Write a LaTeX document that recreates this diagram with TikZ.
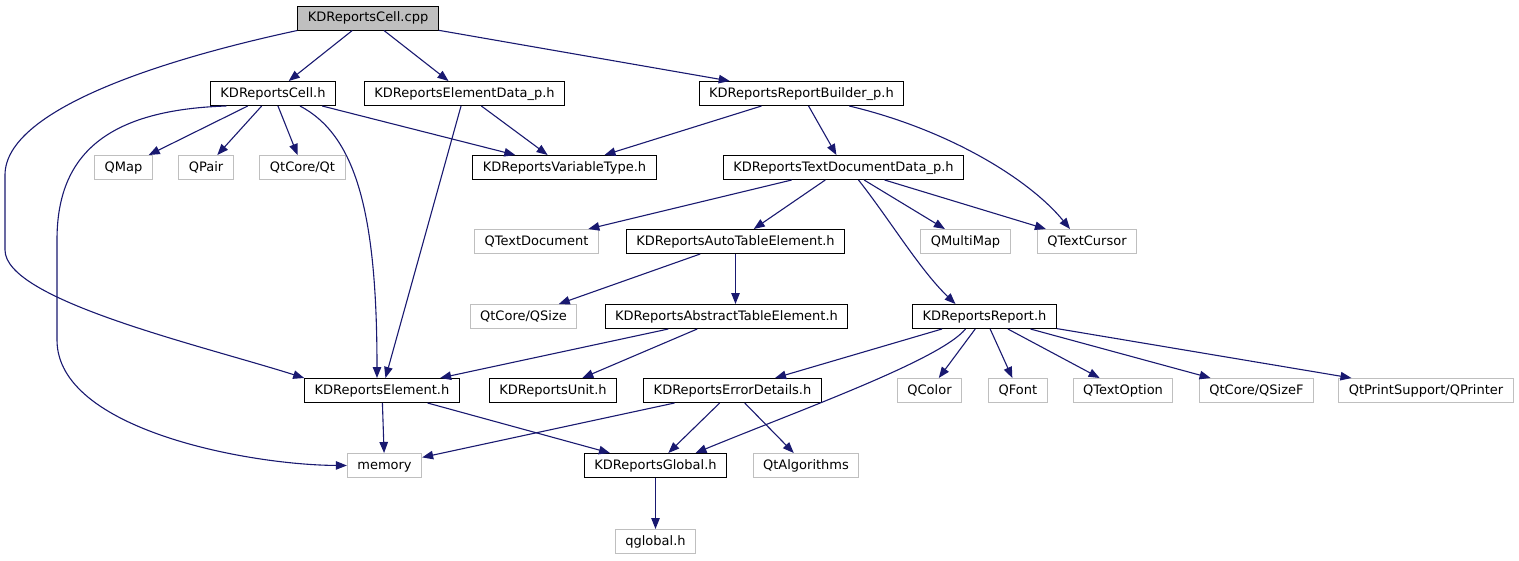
\documentclass[tikz,border=0pt]{standalone}
\usepackage{fontspec}
\setmainfont{DejaVu Sans}
\usetikzlibrary{arrows.meta,calc}
\definecolor{edgec}{HTML}{191970}
\definecolor{grayb}{HTML}{BFBFBF}
\begin{document}
\begin{tikzpicture}[x=1pt,y=-1pt,
  box/.style={draw=black,line width=1pt,font=\fontsize{13}{13}\selectfont,inner xsep=10pt,inner ysep=0pt,minimum height=24pt,text height=9.5pt,text depth=2.5pt},
  ext/.style={box,draw=grayb},
  e/.style={draw=edgec,line width=1.1pt,-{Triangle[length=11pt,width=8.5pt]}},
]
\useasboundingbox (0,0) rectangle (1519,560);
% row 1
\node[box,fill=grayb] (cpp) at (368,18) {KDReportsCell.cpp};
% row 2
\node[box] (cellh) at (273,93.5) {KDReportsCell.h};
\node[box] (eldata) at (464.5,93.5) {KDReportsElementData\_p.h};
\node[box] (builder) at (801.5,93.5) {KDReportsReportBuilder\_p.h};
% row 3
\node[ext] (qmap) at (123.5,167.5) {QMap};
\node[ext] (qpair) at (206,167.5) {QPair};
\node[ext] (qtqt) at (302.5,167.5) {QtCore/Qt};
\node[box] (vartype) at (564.5,167.5) {KDReportsVariableType.h};
\node[box] (textdoc) at (843.5,167.5) {KDReportsTextDocumentData\_p.h};
% row 4
\node[ext] (qtextdoc) at (536.5,241.5) {QTextDocument};
\node[box] (autotable) at (735.5,241.5) {KDReportsAutoTableElement.h};
\node[ext] (qmultimap) at (965.5,241.5) {QMultiMap};
\node[ext] (qtextcursor) at (1087,241.5) {QTextCursor};
% row 5
\node[ext] (qsize) at (523.5,316.5) {QtCore/QSize};
\node[box] (abstract) at (726.5,316.5) {KDReportsAbstractTableElement.h};
\node[box] (report) at (984.5,316.5) {KDReportsReport.h};
% row 6
\node[box] (element) at (382,390.5) {KDReportsElement.h};
\node[box] (unit) at (553,390.5) {KDReportsUnit.h};
\node[box] (errdet) at (732.5,390.5) {KDReportsErrorDetails.h};
\node[ext] (qcolor) at (929.5,390.5) {QColor};
\node[ext] (qfont) at (1018,390.5) {QFont};
\node[ext] (qtextoption) at (1123,390.5) {QTextOption};
\node[ext] (qsizef) at (1256.5,390.5) {QtCore/QSizeF};
\node[ext] (qprinter) at (1426,390.5) {QtPrintSupport/QPrinter};
% row 7
\node[ext] (memory) at (384.5,465.5) {memory};
\node[box] (global) at (655.5,465.5) {KDReportsGlobal.h};
\node[ext] (qtalgo) at (806,465.5) {QtAlgorithms};
% row 8
\node[ext] (qglobal) at (655.5,541.5) {qglobal.h};

% edges
\draw[e] (cpp) -- (cellh);
\draw[e] (cpp) -- (eldata);
\draw[e] (cpp) -- (builder);
\draw[e] (cpp.south west) .. controls (160,60) and (5,110) .. (5,175) -- (5,250) .. controls (5,300) and (200,345) .. (element.north west);

\draw[e] (cellh.195) .. controls (100,110) and (57,160) .. (57,240) -- (57,340) .. controls (57,430) and (250,465) .. (memory.west);
\draw[e] (cellh) -- (qmap);
\draw[e] (cellh) -- (qpair);
\draw[e] (cellh) -- (qtqt);
\draw[e] ($(cellh.south)+(27,0)$) .. controls (355,135) and (377,210) .. ($(element.north)+(-5,0)$);
\draw[e] (cellh) -- (vartype);

\draw[e] (eldata) -- (vartype);
\draw[e] (eldata) -- (element);

\draw[e] (builder) -- (vartype);
\draw[e] (builder) -- (textdoc);
\draw[e] ($(builder.south east)+(-55,0)$) .. controls (950,130) and (1030,180) .. ($(qtextcursor.north)+(-17,0)$);

\draw[e] (textdoc) -- (qtextdoc);
\draw[e] (textdoc) -- (autotable);
\draw[e] (textdoc) -- (qmultimap);
\draw[e] (textdoc) -- (qtextcursor);
\draw[e] ($(textdoc.south)+(15,0)$) .. controls (890,220) and (920,270) .. ($(report.north)+(-29,0)$);

\draw[e] (autotable) -- (qsize);
\draw[e] (autotable.south) -- (abstract.north -| autotable.south);

\draw[e] (abstract) -- (element);
\draw[e] (abstract) -- (unit);

\draw[e] (report) -- (errdet);
\draw[e] (report) -- (qcolor);
\draw[e] (report) -- (qfont);
\draw[e] (report) -- (qtextoption);
\draw[e] (report) -- (qsizef);
\draw[e] (report) -- (qprinter);
\draw[e] ($(report.south)+(-19,0)$) .. controls (940,360) and (800,410) .. ($(global.north)+(40,0)$);

\draw[e] (element) -- (memory);
\draw[e] (element) -- (global);

\draw[e] (errdet) -- (memory);
\draw[e] (errdet) -- (global);
\draw[e] (errdet) -- (qtalgo);

\draw[e] (global) -- (qglobal);
\end{tikzpicture}
\end{document}
